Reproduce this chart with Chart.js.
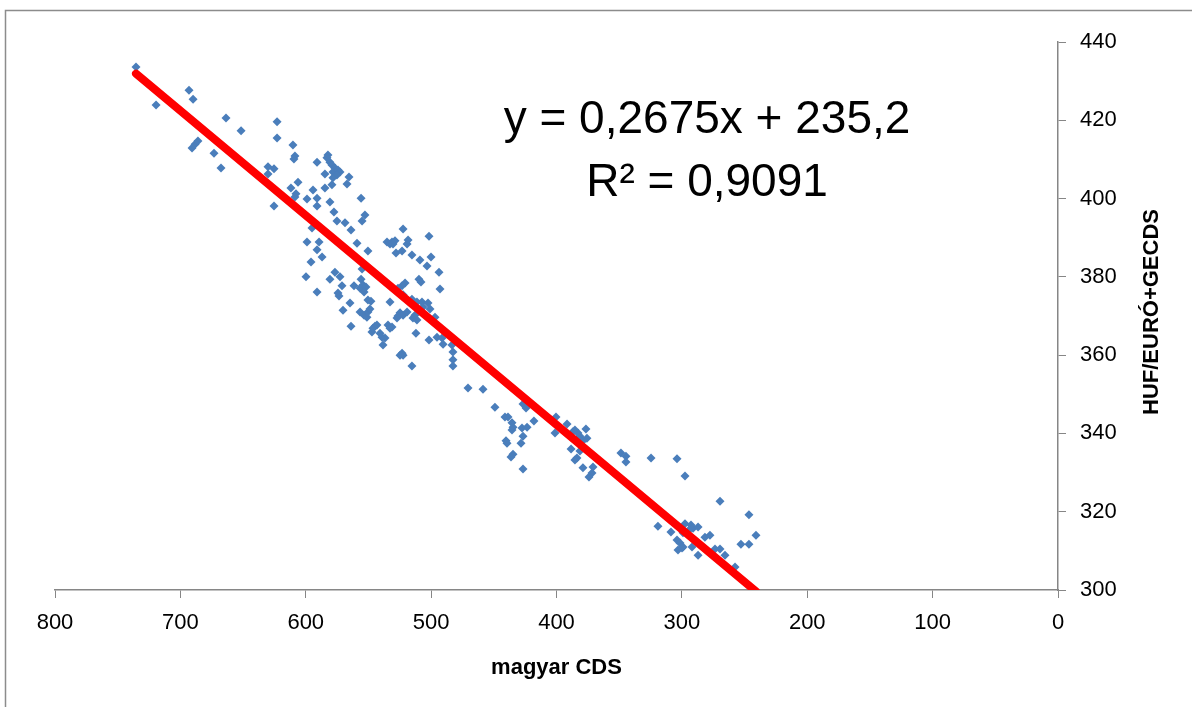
<!DOCTYPE html>
<html>
<head>
<meta charset="utf-8">
<title>magyar CDS - HUF/EURÓ+GECDS</title>
<script src="https://cdn.jsdelivr.net/npm/chart.js@4.4.1/dist/chart.umd.min.js"></script>
<style>
    body { margin: 0; background: #ffffff; }
    canvas { display: block; }
</style>
</head>
<body>
<canvas id="scatterChart" width="1192" height="707"></canvas>
<script>

// magyar CDS (x) values
const magyarCds = [
    735.4, 719.4, 693.1, 689.9, 663.6, 651.6, 690.7, 688.3, 686.0, 673.2, 667.6,
    622.9, 622.9, 610.2, 608.6, 609.4, 630.1, 625.3, 630.1, 625.3, 611.8, 606.2, 607.8, 608.6,
    599.0, 594.2, 591.0, 591.0, 595.0, 599.0, 589.4, 591.0, 587.0,
    591.0, 582.3, 583.1, 580.7, 579.1, 576.7, 578.3, 574.3, 572.7, 575.1, 578.3, 584.7,
    565.5, 567.1, 579.1, 584.7, 580.7, 555.9, 577.5, 575.1, 568.7, 563.9, 552.8, 555.1, 559.1, 550.4,
    595.8, 599.8, 591.0, 580.7, 576.7, 572.7, 571.1, 574.3, 573.5, 570.3, 564.7, 563.9,
    555.1, 555.9, 554.3, 556.7, 552.0, 553.5, 561.5,
    550.4, 548.0, 556.7, 553.5, 551.2, 550.4, 548.8,
    547.2, 544.8, 546.4, 543.2, 540.8, 539.2, 538.4, 536.8,
    535.2, 532.8, 531.2, 528.8, 530.4, 528.0, 523.2, 522.4, 519.2, 518.4,
    515.3, 508.9, 503.3, 501.7, 500.1, 493.7, 492.9,
    509.7, 508.1, 520.8, 523.2, 526.4,
    532.8, 522.4, 515.3, 511.3, 507.3, 502.5, 500.9, 506.5,
    527.2, 524.8, 522.4, 519.2, 526.4, 514.5, 511.3, 512.9, 496.9,
    534.4, 532.8, 531.2, 512.1, 501.7, 495.3, 491.3, 490.5,
    483.4, 482.6, 482.6, 482.6, 523.2, 522.4, 524.8, 515.3,
    470.6, 458.6, 449.1, 426.7, 424.3,
    441.1, 438.7, 435.5, 434.7, 435.5, 427.5, 423.5, 418.0,
    426.7, 428.3, 440.3, 439.5, 434.7, 436.3, 426.7,
    400.4, 401.2, 391.6, 385.3, 382.9, 386.9, 381.3, 376.5, 375.7, 378.9,
    388.4, 381.3, 383.7, 385.3, 378.9, 370.9, 371.7, 374.1,
    348.6, 344.6, 344.6, 324.6,
    303.9, 297.5, 269.6, 246.5, 240.9, 252.9, 246.5,
    319.1, 308.7, 297.5, 292.7, 291.1, 287.1, 294.3, 299.1,
    303.9, 301.5, 299.1, 303.1, 299.9, 291.9, 287.1,
    281.6, 277.6, 273.6, 269.6, 265.6, 257.6
];

// HUF/EURÓ+GECDS (y) values, same order
const hufEuro = [
    433.6, 423.9, 427.7, 425.4, 420.6, 417.3, 412.9, 413.9, 414.7, 411.6, 407.8,
    419.6, 415.5, 413.7, 410.9, 410.1, 408.1, 407.6, 406.3, 398.1, 402.7, 404.2, 401.2, 400.4,
    399.9, 402.2, 400.1, 398.1, 392.5, 388.9, 388.9, 386.9, 385.1,
    409.3, 411.1, 410.4, 409.3, 408.6, 407.8, 406.8, 407.3, 406.8, 406.0, 405.3, 406.3,
    405.5, 403.7, 403.5, 402.7, 399.1, 400.1, 396.6, 394.3, 393.8, 392.0, 395.8, 394.3, 388.6, 386.6,
    383.8, 380.0, 376.1, 379.4, 381.2, 380.0, 377.7, 375.9, 375.1, 371.5, 373.3, 367.4,
    382.0, 379.4, 377.9, 377.1, 377.4, 376.1, 377.7,
    374.1, 373.8, 371.0, 370.2, 369.7, 371.0, 371.8,
    365.9, 367.4, 366.9, 367.7, 365.6, 364.6, 362.6, 364.4,
    388.9, 388.4, 388.9, 389.2, 388.4, 386.1, 386.6, 392.2, 388.4, 389.4,
    385.6, 384.3, 382.8, 390.4, 385.1, 381.2, 376.9,
    379.4, 378.7, 378.4, 377.7, 377.1,
    373.6, 375.4, 374.3, 373.6, 373.6, 373.3, 371.8, 372.3,
    369.5, 370.8, 370.2, 371.0, 370.0, 369.5, 369.0, 370.2, 369.7,
    367.7, 366.9, 367.2, 365.6, 363.9, 364.6, 364.4, 362.8,
    362.6, 360.8, 358.8, 357.2, 360.5, 360.0, 360.0, 357.2,
    351.6, 351.3, 346.7, 347.5, 346.5,
    344.2, 344.2, 342.7, 341.6, 340.9, 341.4, 341.6, 343.2,
    339.3, 337.5, 338.1, 337.5, 334.7, 334.0, 330.9,
    344.2, 340.1, 342.4, 340.9, 340.1, 340.4, 339.3, 341.1, 338.8, 338.1,
    336.0, 335.5, 333.7, 333.2, 331.2, 331.4, 329.9, 328.9,
    335.0, 334.2, 332.7, 333.7,
    333.5, 329.1, 322.7, 319.2, 314.0, 311.7, 311.7,
    316.3, 314.8, 316.9, 316.6, 315.8, 316.1, 315.3, 314.6,
    312.8, 312.0, 311.0, 310.2, 310.7, 311.0, 308.9,
    313.5, 314.0, 310.5, 310.5, 308.9, 305.9
];

// axis ticks
const xTicks = [0, 100, 200, 300, 400, 500, 600, 700, 800];
const yTicks = [300, 320, 340, 360, 380, 400, 420, 440];

// linear trendline as printed on the chart
const trendSlope = 0.2675;
const trendIntercept = 235.2;
const trendRange = [735.4, 240.9];

const equationLines = ["y = 0,2675x + 235,2", "R² = 0,9091"];

const AXIS_GREY = '#868686';
const FONT = '"Liberation Sans", Arial, sans-serif';


const points = magyarCds.map((x, i) => ({ x: x, y: hufEuro[i] }));

const trendPoints = trendRange.map(x => ({ x: x, y: trendSlope * x + trendIntercept }));


const decorPlugin = {
    id: 'decor',

    beforeDraw(chart) {
        const ctx = chart.ctx;

        // chart frame (top and left edges visible)
        ctx.save();
        ctx.strokeStyle = '#8c8c8c';
        ctx.lineWidth = 1.5;
        ctx.beginPath();
        ctx.moveTo(5.5, 707);
        ctx.lineTo(5.5, 10.5);
        ctx.lineTo(1192, 10.5);
        ctx.stroke();
        ctx.restore();
    },

    afterDraw(chart) {
        const ctx = chart.ctx;
        const area = chart.chartArea;

        ctx.save();

        // trendline equation
        ctx.fillStyle = '#000000';
        ctx.textAlign = 'center';
        ctx.textBaseline = 'middle';
        ctx.font = '46px ' + FONT;
        ctx.fillText(equationLines[0], 707, 120);
        ctx.fillText(equationLines[1], 707, 183);

        // right axis title, reading bottom to top
        ctx.font = 'bold 22px ' + FONT;
        ctx.translate(1152, (area.top + area.bottom) / 2 - 4);
        ctx.rotate(-Math.PI / 2);
        ctx.fillText('HUF/EURÓ+GECDS', 0, 0);

        ctx.restore();
    }
};


const chart = new Chart(
    document.getElementById('scatterChart'),
    {
        type: 'scatter',

        data: {
            datasets: [
                {
                    type: 'line',
                    label: 'trend',
                    data: trendPoints,
                    borderColor: '#ff0000',
                    borderWidth: 8,
                    borderCapStyle: 'round',
                    pointRadius: 0,
                    fill: false
                },
                {
                    label: 'HUF/EURÓ+GECDS',
                    data: points,
                    pointStyle: 'rectRot',
                    pointRadius: 4.5,
                    pointHoverRadius: 4.5,
                    backgroundColor: '#4a7ebb',
                    borderColor: '#4a7ebb',
                    borderWidth: 0
                }
            ]
        },

        options: {
            responsive: false,
            animation: false,
            events: [],

            layout: {
                padding: { left: 55, top: 42, right: 0, bottom: 0 }
            },

            plugins: {
                legend: { display: false },
                tooltip: { enabled: false }
            },

            scales: {
                x: {
                    type: 'linear',
                    reverse: true,
                    min: xTicks[0],
                    max: xTicks[xTicks.length - 1],
                    afterFit: scale => { scale.height = 117; },
                    ticks: {
                        stepSize: xTicks[1] - xTicks[0],
                        color: '#000000',
                        padding: 12,
                        maxRotation: 0,
                        font: { family: FONT, size: 22 }
                    },
                    grid: {
                        drawOnChartArea: false,
                        drawTicks: true,
                        tickLength: 8,
                        color: AXIS_GREY
                    },
                    border: { color: AXIS_GREY, width: 1.5 },
                    title: {
                        display: true,
                        text: 'magyar CDS',
                        color: '#000000',
                        font: { family: FONT, size: 22, weight: 'bold' },
                        padding: { top: 0, bottom: 26 }
                    }
                },

                y: {
                    type: 'linear',
                    position: 'right',
                    min: yTicks[0],
                    max: yTicks[yTicks.length - 1],
                    afterFit: scale => { scale.width = 134; },
                    ticks: {
                        stepSize: yTicks[1] - yTicks[0],
                        color: '#000000',
                        padding: 14,
                        font: { family: FONT, size: 22 }
                    },
                    grid: {
                        drawOnChartArea: false,
                        drawTicks: true,
                        tickLength: 8,
                        color: AXIS_GREY
                    },
                    border: { color: AXIS_GREY, width: 1.5 }
                }
            }
        },

        plugins: [decorPlugin]
    }
);

</script>
</body>
</html>
